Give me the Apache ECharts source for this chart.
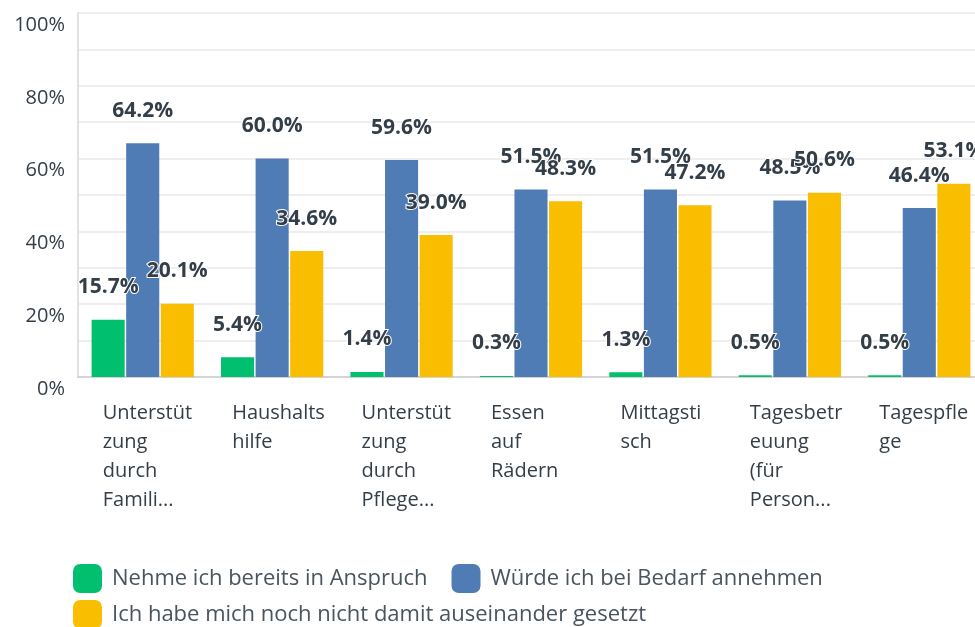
<!DOCTYPE html>
<html>
<head>
<meta charset="utf-8">
<script src="https://cdn.jsdelivr.net/npm/echarts@6/dist/echarts.min.js"></script>
<style>
	html, body { margin: 0; padding: 0; background: #fff; }
	#chart01 { width: 975px; height: 627px; }
</style>
</head>
<body>
<div id="chart01"></div>
<script>
// 카테고리 (표시된 줄바꿈 그대로)
const categories = [
	'Unterstüt\nzung\ndurch\nFamili...',
	'Haushalts\nhilfe',
	'Unterstüt\nzung\ndurch\nPflege...',
	'Essen\nauf\nRädern',
	'Mittagsti\nsch',
	'Tagesbetr\neuung\n(für\nPerson...',
	'Tagespfle\nge'
];
const seriesNames = [
	'Nehme ich bereits in Anspruch',
	'Würde ich bei Bedarf annehmen',
	'Ich habe mich noch nicht damit auseinander gesetzt'
];
const valuesInUse = [15.7, 5.4, 1.4, 0.3, 1.3, 0.5, 0.5];
const valuesWould = [64.2, 60.0, 59.6, 51.5, 51.5, 48.5, 46.4];
const valuesNotYet = [20.1, 34.6, 39.0, 48.3, 47.2, 50.6, 53.1];
const colors = ['#00bf6f', '#507cb6', '#f9be00'];

const FONT = '"Open Sans", Roboto, sans-serif';
const TEXT_COLOR = '#333e48';

const makeSeries = function(name, data) {
	return {
		name: name,
		type: 'bar',
		data: data,
		barGap: '4.5%',
		barCategoryGap: '21%',
		label: {
			show: true,
			position: 'top',
			distance: 22,
			formatter: p => p.value.toFixed(1) + '%',
			fontFamily: FONT,
			fontSize: 21,
			fontWeight: 'bold',
			color: TEXT_COLOR,
			textBorderColor: '#fff',
			textBorderWidth: 2
		}
	};
};

// 범례 공통 설정
const legendBase = {
	left: 73,
	padding: 0,
	icon: 'roundRect',
	itemWidth: 29,
	itemHeight: 29,
	itemGap: 24,
	textStyle: { fontFamily: FONT, fontSize: 22, color: '#4a545e', padding: [0, 0, 0, 5] }
};

const option = {
	color: colors,
	animation: false,
	grid: { left: 78, top: 13, width: 906, bottom: 250, outerBoundsMode: 'none' },
	legend: [
		Object.assign({ top: 564, data: [seriesNames[0], seriesNames[1]] }, legendBase),
		Object.assign({ top: 600, data: [seriesNames[2]] }, legendBase)
	],
	xAxis: {
		type: 'category',
		data: categories,
		axisTick: { show: false },
		axisLine: { lineStyle: { color: '#d4d4d4', width: 2 } },
		axisLabel: {
			margin: 22,
			interval: 0,
			formatter: v => v.split('\n').map(s => '{a|' + s + '}').join('\n'),
			rich: {
				a: {
					width: 80,
					align: 'left',
					fontFamily: FONT,
					fontSize: 20,
					lineHeight: 29,
					color: TEXT_COLOR
				}
			}
		}
	},
	yAxis: {
		type: 'value',
		min: 0,
		max: 100,
		interval: 10,
		axisLine: { show: true, lineStyle: { color: '#e2e2e2', width: 2 } },
		axisTick: { show: false },
		splitLine: { lineStyle: { color: '#eeeeee', width: 2 } },
		axisLabel: {
			formatter: v => (v % 20 === 0 ? v + '%' : ''),
			fontFamily: FONT,
			fontSize: 20,
			color: TEXT_COLOR,
			verticalAlign: 'top',
			lineHeight: 24,
			margin: 13
		}
	},
	series: [
		makeSeries(seriesNames[0], valuesInUse),
		makeSeries(seriesNames[1], valuesWould),
		makeSeries(seriesNames[2], valuesNotYet)
	]
};

const myChart = echarts.init(document.getElementById('chart01'), null, { renderer: 'canvas' });
myChart.setOption(option);
window.addEventListener('resize', myChart.resize);
</script>
</body>
</html>
